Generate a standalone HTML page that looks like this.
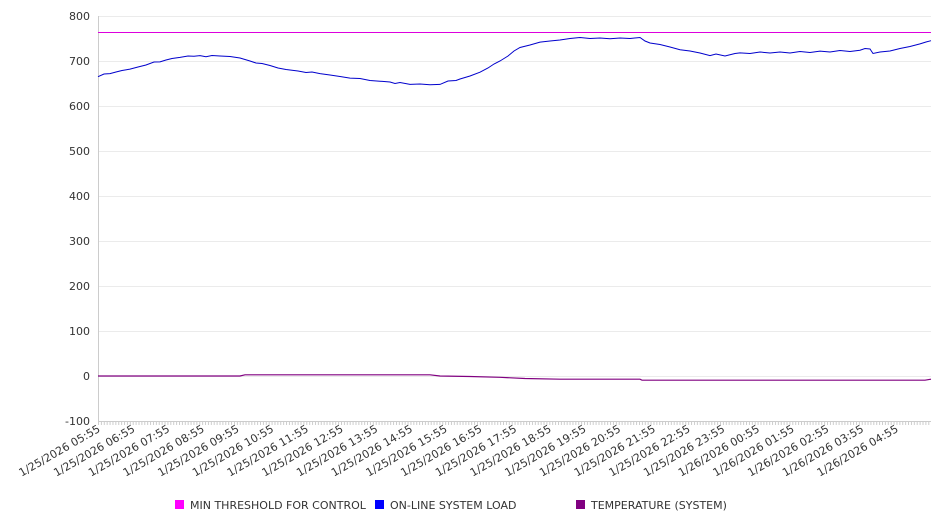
<!DOCTYPE html>
<html><head><style>body{margin:0;background:#fff}svg{display:block;font-family:"DejaVu Sans","Liberation Sans",sans-serif}</style></head>
<body>
<svg width="946" height="526" viewBox="0 0 946 526">
<defs><pattern id="tk" x="98" y="0" width="2.893" height="10" patternUnits="userSpaceOnUse"><line x1="0.5" y1="0" x2="0.5" y2="10" stroke="#ccc" stroke-width="1"/></pattern></defs>
<g stroke="#ebebeb" stroke-width="1">
<line x1="98" y1="16.5" x2="931" y2="16.5"/><line x1="98" y1="61.5" x2="931" y2="61.5"/><line x1="98" y1="106.5" x2="931" y2="106.5"/><line x1="98" y1="151.5" x2="931" y2="151.5"/><line x1="98" y1="196.5" x2="931" y2="196.5"/><line x1="98" y1="241.5" x2="931" y2="241.5"/><line x1="98" y1="286.5" x2="931" y2="286.5"/><line x1="98" y1="331.5" x2="931" y2="331.5"/><line x1="98" y1="376.5" x2="931" y2="376.5"/>
</g>
<line x1="98.5" y1="16" x2="98.5" y2="421" stroke="#ccc"/>
<line x1="98" y1="421.5" x2="931" y2="421.5" stroke="#ccc"/>
<rect x="98" y="421" width="833" height="4" fill="url(#tk)"/>
<g font-size="11" fill="#333" text-anchor="end">
<text x="90" y="20">800</text><text x="90" y="65">700</text><text x="90" y="110">600</text><text x="90" y="155">500</text><text x="90" y="200">400</text><text x="90" y="245">300</text><text x="90" y="290">200</text><text x="90" y="335">100</text><text x="90" y="380">0</text><text x="90" y="425">-100</text>
</g>
<line x1="98" y1="32.5" x2="931" y2="32.5" stroke="#d0d" stroke-width="1"/>
<polyline fill="none" stroke="#00c" stroke-width="1" points="98,76.7 104,74 110,73.6 116,72 122,70.5 130,69.1 138,67 146,65 154,62 160,61.9 166,60 172,58.5 180,57.4 188,56 194,56.3 200,55.6 206,56.8 212,55.5 220,56 230,56.5 240,58 250,61 256,63 262,63.5 270,65.5 278,68 286,69.5 290,70 298,71 306,72.5 312,72 320,73.6 330,75 340,76.5 350,78.1 360,78.5 370,80.5 380,81.2 390,82 395,83.5 400,82.5 410,84.4 420,84 430,84.8 440,84.4 448,81 456,80.5 460,79 470,76 480,72.2 488,68 494,64 500,61 508,56 514,51 520,47.5 530,45 540,42.1 550,41 560,40 570,38.5 580,37.5 590,38.5 600,38 610,38.8 620,38 630,38.5 640,37.5 645,41 650,43 660,44.5 670,47 680,49.7 690,51 700,53 710,55.6 716,54 725,56 735,53.5 740,52.9 750,53.5 760,52 770,53 780,52 790,53 800,51.5 810,52.5 820,51.1 830,52 840,50.5 850,51.5 860,50.2 865,48.5 870,49 873,53.5 880,52 890,51 900,48.5 910,46.5 920,43.9 926,42 931,40.7"/>
<polyline fill="none" stroke="#800080" stroke-width="1.2" points="98,376 240,376 245,374.8 430,374.8 440,376 470,376.5 500,377.3 525,378.5 560,379.2 640,379.2 642,380.2 925,380.2 931,379.2"/>
<g font-size="11" fill="#333" text-anchor="end">
<text transform="translate(101,431) rotate(-30)">1/25/2026 05:55</text>
<text transform="translate(135.7,431) rotate(-30)">1/25/2026 06:55</text>
<text transform="translate(170.4,431) rotate(-30)">1/25/2026 07:55</text>
<text transform="translate(205.1,431) rotate(-30)">1/25/2026 08:55</text>
<text transform="translate(239.8,431) rotate(-30)">1/25/2026 09:55</text>
<text transform="translate(274.5,431) rotate(-30)">1/25/2026 10:55</text>
<text transform="translate(309.2,431) rotate(-30)">1/25/2026 11:55</text>
<text transform="translate(343.9,431) rotate(-30)">1/25/2026 12:55</text>
<text transform="translate(378.6,431) rotate(-30)">1/25/2026 13:55</text>
<text transform="translate(413.3,431) rotate(-30)">1/25/2026 14:55</text>
<text transform="translate(448,431) rotate(-30)">1/25/2026 15:55</text>
<text transform="translate(482.7,431) rotate(-30)">1/25/2026 16:55</text>
<text transform="translate(517.4,431) rotate(-30)">1/25/2026 17:55</text>
<text transform="translate(552.1,431) rotate(-30)">1/25/2026 18:55</text>
<text transform="translate(586.8,431) rotate(-30)">1/25/2026 19:55</text>
<text transform="translate(621.5,431) rotate(-30)">1/25/2026 20:55</text>
<text transform="translate(656.2,431) rotate(-30)">1/25/2026 21:55</text>
<text transform="translate(690.9,431) rotate(-30)">1/25/2026 22:55</text>
<text transform="translate(725.6,431) rotate(-30)">1/25/2026 23:55</text>
<text transform="translate(760.3,431) rotate(-30)">1/26/2026 00:55</text>
<text transform="translate(795,431) rotate(-30)">1/26/2026 01:55</text>
<text transform="translate(829.7,431) rotate(-30)">1/26/2026 02:55</text>
<text transform="translate(864.4,431) rotate(-30)">1/26/2026 03:55</text>
<text transform="translate(899.1,431) rotate(-30)">1/26/2026 04:55</text>
</g>
<g font-size="11" fill="#333">
<rect x="175" y="500" width="9" height="9" fill="#f0f"/><text x="190" y="509">MIN THRESHOLD FOR CONTROL</text>
<rect x="375" y="500" width="9" height="9" fill="#00f"/><text x="390" y="509">ON-LINE SYSTEM LOAD</text>
<rect x="576" y="500" width="9" height="9" fill="#800080"/><text x="591" y="509">TEMPERATURE (SYSTEM)</text>
</g>
</svg>
</body></html>
